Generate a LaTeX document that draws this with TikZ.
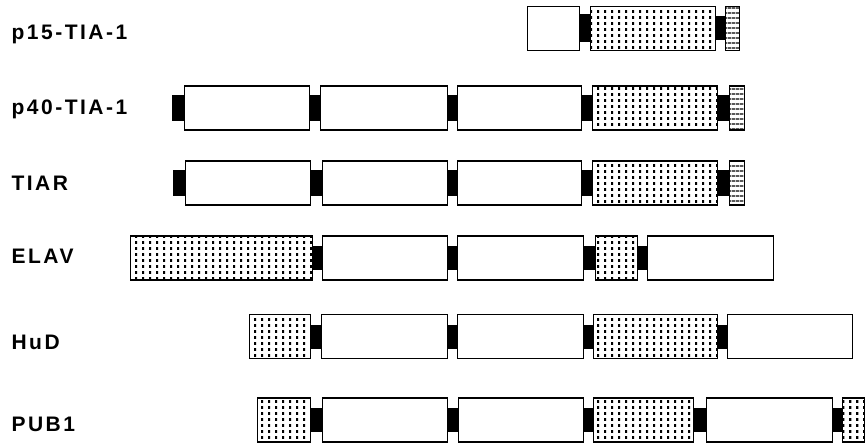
\documentclass[tikz,border=0pt]{standalone}
\usepackage{fontspec}
\usepackage{tikz}
\usetikzlibrary{patterns}
\newfontfamily\labfont[LetterSpace=12]{Liberation Sans}

\pgfdeclarepatternformonly{dotgrid}{\pgfpointorigin}{\pgfqpoint{7pt}{5.5pt}}{\pgfqpoint{7pt}{5.5pt}}%
{\pgfpathrectangle{\pgfqpoint{2.3pt}{1.3pt}}{\pgfqpoint{2.4pt}{3pt}}\pgfusepath{fill}}
\pgfdeclarepatternformonly{hstripes}{\pgfpointorigin}{\pgfqpoint{4pt}{4.5pt}}{\pgfqpoint{4pt}{4.5pt}}%
{\pgfpathrectangle{\pgfqpoint{0pt}{1.6pt}}{\pgfqpoint{4pt}{1.3pt}}\pgfusepath{fill}}

\begin{document}
\begin{tikzpicture}[x=1pt,y=-1pt,
    dom/.style={draw,line width=1.3pt,inner sep=0pt,minimum height=44pt,anchor=west},
    plain/.style={dom,fill=white},
    rrm/.style={dom,pattern=dotgrid},
    tail/.style={dom,pattern=hstripes},
    linker/.style={fill=black},
    protein/.style={anchor=base west,font=\labfont\bfseries\fontsize{21}{24}\selectfont}]

\useasboundingbox (0,0) rectangle (867,446);

% p15-TIA-1
\node[protein] (n1) at (8,40) {p15-TIA-1};
\node[plain,minimum width=52pt] (a1) at (527,28.5) {};
\node[rrm,minimum width=125pt] (a2) at (590,28.5) {};
\node[tail,minimum width=14pt] (a3) at (725,28.5) {};
\fill[linker] ([yshift=14pt]a1.east) rectangle ([yshift=-14pt]a2.west);
\fill[linker] ([yshift=12pt]a2.east) rectangle ([yshift=-12pt]a3.west);

% p40-TIA-1
\node[protein] (n2) at (8,115) {p40-TIA-1};
\coordinate (b0) at (172,108);
\node[plain,minimum width=125pt] (b1) at (184,108) {};
\node[plain,minimum width=127pt] (b2) at (320,108) {};
\node[plain,minimum width=124pt] (b3) at (457,108) {};
\node[rrm,minimum width=125pt] (b4) at (592,108) {};
\node[tail,minimum width=15pt] (b5) at (729,108) {};
\fill[linker] ([yshift=13pt]b0) rectangle ([yshift=-13pt]b1.west);
\fill[linker] ([yshift=13pt]b1.east) rectangle ([yshift=-13pt]b2.west);
\fill[linker] ([yshift=13pt]b2.east) rectangle ([yshift=-13pt]b3.west);
\fill[linker] ([yshift=13pt]b3.east) rectangle ([yshift=-13pt]b4.west);
\fill[linker] ([yshift=13pt]b4.east) rectangle ([yshift=-13pt]b5.west);

% TIAR
\node[protein] (n3) at (8,191) {TIAR};
\coordinate (c0) at (173,183);
\node[plain,minimum width=125pt] (c1) at (185,183) {};
\node[plain,minimum width=125pt] (c2) at (322,183) {};
\node[plain,minimum width=124pt] (c3) at (457,183) {};
\node[rrm,minimum width=125pt] (c4) at (592,183) {};
\node[tail,minimum width=15pt] (c5) at (729,183) {};
\fill[linker] ([yshift=13pt]c0) rectangle ([yshift=-13pt]c1.west);
\fill[linker] ([yshift=13pt]c1.east) rectangle ([yshift=-13pt]c2.west);
\fill[linker] ([yshift=13pt]c2.east) rectangle ([yshift=-13pt]c3.west);
\fill[linker] ([yshift=13pt]c3.east) rectangle ([yshift=-13pt]c4.west);
\fill[linker] ([yshift=13pt]c4.east) rectangle ([yshift=-13pt]c5.west);

% ELAV
\node[protein] (n4) at (8,264) {ELAV};
\node[rrm,minimum width=182pt] (d1) at (130,258) {};
\node[plain,minimum width=125pt] (d2) at (322,258) {};
\node[plain,minimum width=126pt] (d3) at (457,258) {};
\node[rrm,minimum width=42pt] (d4) at (595,258) {};
\node[plain,minimum width=126pt] (d5) at (647,258) {};
\fill[linker] ([yshift=12pt]d1.east) rectangle ([yshift=-12pt]d2.west);
\fill[linker] ([yshift=12pt]d2.east) rectangle ([yshift=-12pt]d3.west);
\fill[linker] ([yshift=12pt]d3.east) rectangle ([yshift=-12pt]d4.west);
\fill[linker] ([yshift=12pt]d4.east) rectangle ([yshift=-12pt]d5.west);

% HuD
\node[protein] (n5) at (8,349) {HuD};
\node[rrm,minimum width=61pt] (e1) at (249,336.5) {};
\node[plain,minimum width=126pt] (e2) at (321,336.5) {};
\node[plain,minimum width=126pt] (e3) at (457,336.5) {};
\node[rrm,minimum width=124pt] (e4) at (593,336.5) {};
\node[plain,minimum width=125pt] (e5) at (727,336.5) {};
\fill[linker] ([yshift=12pt]e1.east) rectangle ([yshift=-12pt]e2.west);
\fill[linker] ([yshift=12pt]e2.east) rectangle ([yshift=-12pt]e3.west);
\fill[linker] ([yshift=12pt]e3.east) rectangle ([yshift=-12pt]e4.west);
\fill[linker] ([yshift=12pt]e4.east) rectangle ([yshift=-12pt]e5.west);

% PUB1
\node[protein] (n6) at (8,431) {PUB1};
\node[rrm,minimum width=53pt] (f1) at (257,420) {};
\node[plain,minimum width=125pt] (f2) at (322,420) {};
\node[plain,minimum width=125pt] (f3) at (458,420) {};
\node[rrm,minimum width=100pt] (f4) at (593,420) {};
\node[plain,minimum width=126pt] (f5) at (706,420) {};
\node[rrm,minimum width=22pt] (f6) at (842,420) {};
\fill[linker] ([yshift=12pt]f1.east) rectangle ([yshift=-12pt]f2.west);
\fill[linker] ([yshift=12pt]f2.east) rectangle ([yshift=-12pt]f3.west);
\fill[linker] ([yshift=12pt]f3.east) rectangle ([yshift=-12pt]f4.west);
\fill[linker] ([yshift=12pt]f4.east) rectangle ([yshift=-12pt]f5.west);
\fill[linker] ([yshift=12pt]f5.east) rectangle ([yshift=-12pt]f6.west);
\end{tikzpicture}
\end{document}
